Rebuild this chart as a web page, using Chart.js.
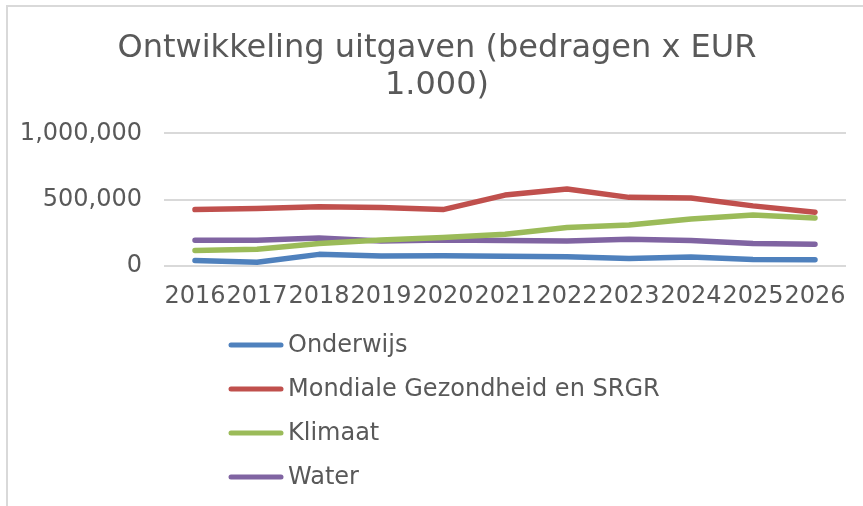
<!DOCTYPE html>
<html>
<head>
<meta charset="utf-8">
<script src="https://cdn.jsdelivr.net/npm/chart.js@4/dist/chart.umd.min.js"></script>
<style>
  html, body { margin: 0; padding: 0; background: #fff; overflow: hidden; }
  #wrap { position: relative; width: 863px; height: 506px; }
  #frame { position: absolute; left: 6px; top: 5px; width: 900px; height: 600px;
           border-top: 2px solid #d9d9d9; border-left: 2px solid #d9d9d9; pointer-events: none; }
</style>
</head>
<body>
<div id="wrap">
  <canvas id="myChart" width="863" height="506"></canvas>
  <div id="frame"></div>
</div>
<script>
// data (bedragen x EUR 1.000)
var years = ['2016', '2017', '2018', '2019', '2020', '2021', '2022', '2023', '2024', '2025', '2026'];
var onderwijs = [43000, 30000, 89000, 76000, 79000, 74000, 71000, 58000, 69000, 51000, 48000];
var mondialeGezondheid = [426000, 434000, 447000, 442000, 426000, 535000, 581000, 518000, 513000, 454000, 406000];
var klimaat = [119000, 127000, 170000, 198000, 216000, 241000, 292000, 310000, 355000, 386000, 363000];
var water = [195000, 195000, 213000, 190000, 198000, 193000, 190000, 203000, 193000, 170000, 165000];
var yTicks = [0, 500000, 1000000];

var seriesNames = ['Onderwijs', 'Mondiale Gezondheid en SRGR', 'Klimaat', 'Water'];
var seriesColors = ['#4f81bd', '#c0504d', '#9bbb59', '#8064a2'];
var textColor = '#595959';

Chart.defaults.font.family = '"DejaVu Sans", sans-serif';
Chart.defaults.color = textColor;

// legend below the chart, one item per row
var listLegend = {
    id: 'listLegend',
    afterLayout: function(chart) {
        // let the long y labels run past the left padding without being clipped
        chart.scales.y.left = 0;
    },
    afterDraw: function(chart) {
        var ctx = chart.ctx;
        ctx.save();
        ctx.font = '24px "DejaVu Sans", sans-serif';
        ctx.textBaseline = 'middle';
        ctx.lineCap = 'round';
        chart.data.datasets.forEach(function(ds, i) {
            var y = 345 + i * 44;
            ctx.strokeStyle = ds.borderColor;
            ctx.lineWidth = 5;
            ctx.beginPath();
            ctx.moveTo(231, y);
            ctx.lineTo(281, y);
            ctx.stroke();
            ctx.fillStyle = textColor;
            ctx.fillText(ds.label, 288, y + 1);
        });
        ctx.restore();
    }
};

function makeSet(i, values) {
    return {
        label: seriesNames[i],
        data: values,
        borderColor: seriesColors[i],
        backgroundColor: seriesColors[i],
        borderWidth: 5.5,
        borderCapStyle: 'round',
        borderJoinStyle: 'round',
        pointRadius: 0,
        tension: 0
    };
}

var ctx = document.getElementById('myChart').getContext('2d');
var myChart = new Chart(ctx, {
    type: 'line',
    data: {
        labels: years,
        datasets: [
            makeSet(0, onderwijs),
            makeSet(1, mondialeGezondheid),
            makeSet(2, klimaat),
            makeSet(3, water)
        ]
    },
    plugins: [listLegend],
    options: {
        responsive: false,
        animation: false,
        layout: { padding: { left: 28, right: 17, top: 0, bottom: 187 } },
        plugins: {
            legend: { display: false },
            tooltip: { enabled: false },
            title: {
                display: true,
                text: ['Ontwikkeling uitgaven (bedragen x EUR', '1.000)'],
                color: textColor,
                font: { size: 32, weight: 'normal', lineHeight: 1.13 },
                padding: { top: 31, bottom: 30 }
            }
        },
        scales: {
            x: {
                offset: true,
                grid: { display: false },
                border: { display: false },
                ticks: {
                    autoSkip: false,
                    maxRotation: 0,
                    minRotation: 0,
                    padding: 8,
                    color: textColor,
                    font: { size: 24 }
                }
            },
            y: {
                min: 0,
                max: 1000000,
                afterBuildTicks: function(axis) {
                    axis.ticks = yTicks.map(function(v) { return { value: v }; });
                },
                afterFit: function(axis) {
                    axis.width = 136;
                },
                grid: { color: '#d9d9d9', lineWidth: 2, drawTicks: false },
                border: { display: false },
                ticks: {
                    padding: 22,
                    color: textColor,
                    font: { size: 24 },
                    callback: function(v) { return v.toLocaleString('en-US'); }
                }
            }
        }
    }
});
</script>
</body>
</html>
